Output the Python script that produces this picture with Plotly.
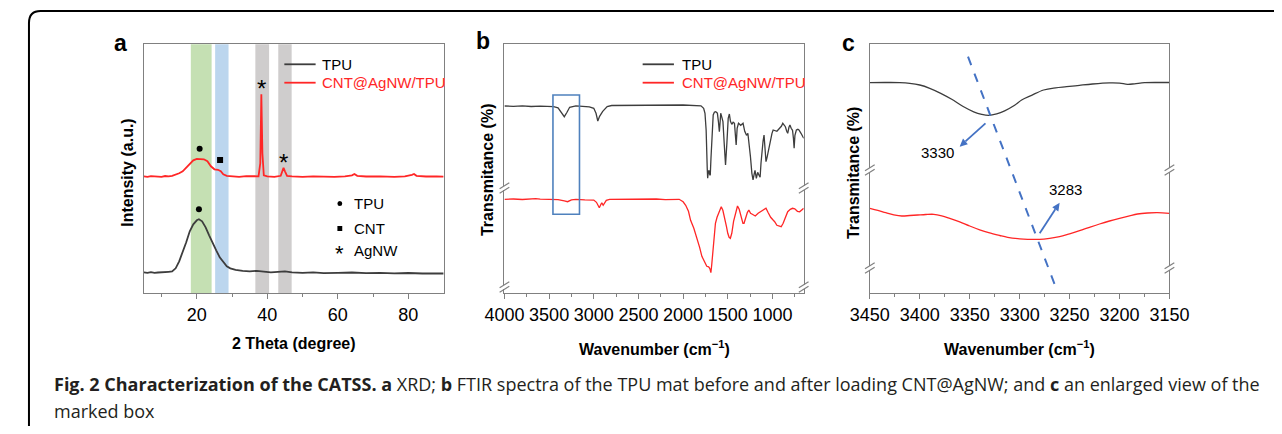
import numpy as np
import plotly.graph_objects as go

# the page body has an 8px margin on every side: size the figure to fit inside it
OFF = 8
W, H = 1282 - 2 * OFF, 434 - 2 * OFF

# ---------------- Panel a : XRD ----------------
xrd_2theta_tpu = [5, 6, 7, 8, 9, 10, 11, 12, 13, 14, 15, 16, 17, 18, 19, 20, 20.6, 21.5, 22.5, 23.5,
                  24.5, 25.5, 26.5, 27.5, 28.5, 29.5, 31, 33, 35, 37, 39, 41, 43, 45, 47, 50, 53,
                  56, 60, 64, 68, 72, 76, 80, 84, 88, 90]
xrd_tpu = [21, 20.5, 21.2, 20.4, 20.8, 21, 20.6, 21.5, 21.8, 25, 32, 41, 51, 62, 69, 73, 74, 72, 66, 58,
           50, 43, 36, 31, 27, 25, 23.5, 22.5, 22, 22.5, 21.5, 21, 21.5, 22, 21, 20.5, 21,
           20.2, 20.5, 20.8, 20.2, 20.5, 20, 20.3, 19.8, 20, 19.8]

xrd_2theta_cnt = [5, 6, 7, 8, 9, 10, 11, 12, 13, 14, 15, 16, 17, 18, 19, 20, 21, 22, 23, 24, 25, 26,
                  26.8, 27.5, 28.5, 30, 32, 34, 36, 37.5, 38.0, 38.3, 38.6, 39.0, 40, 42, 43.8, 44.3,
                  44.6, 45.0, 45.6, 47, 50, 53, 56, 59, 62, 64, 64.7, 65.5, 68, 72, 76, 79, 81,
                  81.6, 82.3, 85, 88, 90]
xrd_cnt = [117, 116.5, 117.2, 116.8, 117, 116.5, 117.3, 117, 117.5, 118.5, 120, 122, 126, 130, 133,
           134.5, 134.5, 134, 132, 127, 124, 123.5, 122, 119, 117.5, 117, 116.5, 117.2, 116.8, 117,
           130, 199, 140, 118, 117, 116.5, 117.5, 122, 125.5, 122, 117.5, 117, 116.5, 117, 116.8,
           116.4, 117, 118, 119.3, 117.5, 116.8, 117, 116.4, 117, 118.5, 119.3, 117.5, 116.8, 117,
           116.6]

band_ranges = [(18.3, 24.2), (25.2, 29.0), (36.6, 40.5), (43.1, 46.9)]
band_colors = ['#c5e0b3', '#bcd6ee', '#cfcdcd', '#cfcdcd']
tpu_peak_2theta = 20.6
tpu_peak_2theta_cnt = 20.8
cnt_peak_2theta = 26.6
agnw_peaks_2theta = [38.3, 44.6]
xrd_ticks = [20, 40, 60, 80]

# ---------------- Panel b : FTIR ----------------
ftir_wn_tpu = [4000, 3900, 3800, 3700, 3600, 3500, 3450, 3400, 3360, 3330, 3300, 3270, 3200, 3100,
               3050, 3000, 2975, 2955, 2935, 2900, 2870, 2850, 2800, 2600, 2400, 2200, 2000, 1800,
               1770, 1755, 1742, 1730, 1725, 1718, 1710, 1703, 1696, 1688, 1681, 1670, 1663, 1650,
               1638, 1625, 1616, 1605, 1594, 1585, 1579, 1566, 1554, 1540, 1525, 1510, 1495, 1482,
               1470, 1455, 1440, 1425, 1415, 1406, 1395, 1380, 1355, 1329, 1310, 1290, 1275, 1260,
               1246, 1230, 1217, 1205, 1195, 1180, 1165, 1150, 1138, 1128, 1120, 1105, 1094, 1083,
               1072, 1060, 1045, 1022, 1005, 992, 970, 950, 920, 900, 884, 870, 855, 840, 829, 815,
               804, 790, 775, 765, 757, 748, 732, 715, 703, 680, 650]
ftir_tpu = [187.3, 187.0, 187.5, 186.8, 187.2, 186.8, 186.6, 185.5, 181, 176.6, 181, 186, 187.5, 187.2,
            186.5, 185, 180, 172.3, 177, 182, 185, 186.8, 187.8, 188, 188.2, 188.3, 188.3, 187.5,
            185, 180, 163, 125, 115, 121, 123, 119, 118, 135, 153, 172, 178.3, 181,
            181.6, 181, 180, 172, 161.6, 172, 180, 176, 171.6, 150, 128.3, 150, 175, 179.3,
            172, 169, 171, 170, 160, 148.3, 165, 170, 168, 170, 162, 158, 160, 150,
            136.6, 120, 113.3, 119, 123, 115, 121, 118, 116, 130, 140, 152, 158.3, 145,
            131.6, 136, 143, 153, 160, 163.3, 163, 162, 165, 167, 170, 168, 166.6, 162, 160, 166,
            168.3, 165, 163, 155, 145, 158, 163.3, 164, 163.3, 160, 155]

ftir_wn_cnt = [4000, 3900, 3800, 3700, 3650, 3600, 3500, 3400, 3330, 3293, 3250, 3200, 3100, 3000,
               2970, 2950, 2938, 2920, 2910, 2895, 2880, 2860, 2823, 2700, 2500, 2300, 2200, 2100,
               2044, 2000, 1971, 1940, 1916, 1880, 1844, 1815, 1790, 1760, 1735, 1720, 1710, 1698,
               1689, 1680, 1663, 1650, 1638, 1620, 1609, 1590, 1573, 1555, 1536, 1515, 1500, 1485,
               1471, 1455, 1435, 1410, 1391, 1372, 1355, 1330, 1318, 1300, 1280, 1264, 1245, 1225,
               1192, 1160, 1120, 1072, 1050, 1020, 990, 975, 950, 920, 902, 880, 855, 829, 800, 775,
               750, 720, 695, 670, 650]
ftir_cnt = [94.0, 94.3, 93.8, 94.5, 94.6, 94.2, 94.0, 93.6, 92.5, 91.6, 93.5, 94.0, 93.5, 93.2,
            91, 87, 85.6, 89, 90.5, 88, 90, 93, 94, 94.2, 93.8, 94.3, 93.6, 94.2,
            94.0, 91.5, 88, 82, 73, 65, 55, 46, 37, 31, 27, 26.6, 26, 24,
            20.6, 28, 43.3, 58, 70, 76, 78.3, 84, 86.6, 83, 76.6, 67, 60, 56,
            55, 60, 72, 82, 87.3, 84, 77, 70, 70, 76, 81, 83.3, 80, 79,
            77.3, 80, 82, 85, 81, 76, 73, 71.6, 68, 67, 66.6, 70, 76, 81.6, 84, 85,
            84.5, 82, 81.5, 83, 85]

ftir_ticks = [4000, 3500, 3000, 2500, 2000, 1500, 1000]
box_wn = (3457, 3160)
box_val = (79, 198.3)

# ---------------- Panel c : FTIR zoom ----------------
zoom_wn_tpu = [3450, 3435, 3420, 3410, 3400, 3390, 3379, 3368, 3357, 3346, 3338, 3331, 3323, 3315,
               3305, 3298, 3288, 3276, 3264, 3253, 3240, 3227, 3210, 3200, 3192, 3185, 3175, 3160, 3150]
zoom_tpu = [210.6, 210.8, 210.7, 210, 208.3, 205, 200, 194, 187, 181.5, 179, 178, 179.5, 182.5,
            188, 193.3, 198, 203.3, 205.5, 206.6, 208, 209.3, 210.4, 210.2, 209, 209.5, 210.6, 210.8, 210.8]
zoom_wn_cnt = [3450, 3442, 3434, 3426, 3418, 3410, 3402, 3394, 3386, 3378, 3370, 3360, 3350, 3340,
               3331, 3320, 3312, 3300, 3292, 3280, 3270, 3260, 3250, 3240, 3230, 3220, 3210, 3200,
               3190, 3182, 3172, 3162, 3150]
zoom_cnt = [85, 83, 80.6, 78.5, 77.3, 77.8, 78.3, 78.8, 79, 77.5, 75, 71.5, 67.3, 63.5,
            60.6, 57.8, 56, 54.5, 54, 54, 55, 56.6, 59.5, 62.6, 66, 69.3, 72.3, 75,
            77.5, 79.3, 80.3, 80.6, 80]
zoom_ticks = [3450, 3400, 3350, 3300, 3250, 3200, 3150]
peak_tpu_wn = 3330
peak_cnt_wn = 3283

# ---------------- styling ----------------
FONT = "Liberation Sans, Arial, sans-serif"
BLACK = '#3d3d3d'
RED = '#ff2626'
AX = '#808080'
BLUE = '#4472c4'
Y_RANGE = [0, 249]


def PX(x):
    return (x - OFF) / W


def PY(y):
    return 1 - (y - OFF) / H


Y_DOMAIN = [PY(293.3), PY(44.3)]

fig = go.Figure()

# panel a traces
fig.add_trace(go.Scatter(x=xrd_2theta_tpu, y=xrd_tpu, mode='lines', line=dict(color=BLACK, width=1.8),
                         xaxis='x', yaxis='y', showlegend=False))
fig.add_trace(go.Scatter(x=xrd_2theta_cnt, y=xrd_cnt, mode='lines', line=dict(color=RED, width=1.8),
                         xaxis='x', yaxis='y', showlegend=False))
# peak symbols (positions from the curves)
dot_x = [tpu_peak_2theta, tpu_peak_2theta_cnt]
dot_y = [np.interp(tpu_peak_2theta, xrd_2theta_tpu, xrd_tpu) + 10,
         np.interp(tpu_peak_2theta_cnt, xrd_2theta_cnt, xrd_cnt) + 10]
fig.add_trace(go.Scatter(x=dot_x, y=dot_y, mode='markers', marker=dict(symbol='circle', size=6, color='black'),
                         xaxis='x', yaxis='y', showlegend=False))
fig.add_trace(go.Scatter(x=[cnt_peak_2theta], y=[np.interp(cnt_peak_2theta, xrd_2theta_cnt, xrd_cnt) + 11],
                         mode='markers', marker=dict(symbol='square', size=6, color='black'),
                         xaxis='x', yaxis='y', showlegend=False))

# panel b traces
fig.add_trace(go.Scatter(x=ftir_wn_tpu, y=ftir_tpu, mode='lines', line=dict(color=BLACK, width=1.3),
                         xaxis='x2', yaxis='y2', showlegend=False))
fig.add_trace(go.Scatter(x=ftir_wn_cnt, y=ftir_cnt, mode='lines', line=dict(color=RED, width=1.3),
                         xaxis='x2', yaxis='y2', showlegend=False))

# panel c traces
fig.add_trace(go.Scatter(x=zoom_wn_tpu, y=zoom_tpu, mode='lines', line=dict(color=BLACK, width=1.3, shape='spline'),
                         xaxis='x3', yaxis='y3', showlegend=False))
fig.add_trace(go.Scatter(x=zoom_wn_cnt, y=zoom_cnt, mode='lines', line=dict(color=RED, width=1.3, shape='spline'),
                         xaxis='x3', yaxis='y3', showlegend=False))

xcommon = dict(showgrid=False, zeroline=False, showline=True, linecolor=AX, linewidth=1.2, mirror=True,
               ticks='outside', ticklen=5, tickwidth=1.2, tickcolor=AX,
               tickfont=dict(size=18, color='black', family=FONT), ticklabelstandoff=0)
ycommon = dict(showgrid=False, zeroline=False, showline=True, linecolor=AX, linewidth=1.2, mirror=True,
               ticks='', showticklabels=False, range=Y_RANGE, domain=Y_DOMAIN, fixedrange=True)

fig.update_layout(
    xaxis=dict(domain=[PX(127.7), PX(437.2)], range=[5, 90], anchor='y', tickvals=xrd_ticks,
               minor=dict(ticks='outside', ticklen=3, tickcolor=AX, tickvals=[10, 30, 50, 70]), **xcommon),
    yaxis=dict(anchor='x', **ycommon),
    xaxis2=dict(domain=[PX(500), PX(809)], range=[4000, 650], anchor='y2', tickvals=ftir_ticks,
                minor=dict(ticks='outside', ticklen=3, tickcolor=AX, dtick=250, tick0=0), **xcommon),
    yaxis2=dict(anchor='x2', **ycommon),
    xaxis3=dict(domain=[PX(877.3), PX(1186.7)], range=[3450, 3150], anchor='y3', tickvals=zoom_ticks,
                minor=dict(ticks='outside', ticklen=3, tickcolor=AX, dtick=25, tick0=0), **xcommon),
    yaxis3=dict(anchor='x3', **ycommon),
)

shapes = []
# XRD bands
for (b0, b1), col in zip(band_ranges, band_colors):
    shapes.append(dict(type='rect', xref='x', yref='y domain', x0=b0, x1=b1, y0=0, y1=1,
                       fillcolor=col, line=dict(width=0), layer='below'))
# FTIR marked box
shapes.append(dict(type='rect', xref='x2', yref='y2', x0=box_wn[0], x1=box_wn[1], y0=box_val[0], y1=box_val[1],
                   line=dict(color='#4f81bd', width=1.6), fillcolor='rgba(0,0,0,0)'))
# dashed guide in c
shapes.append(dict(type='line', xref='x3', yref='y3', x0=3351.7, y0=236.6, x1=3262.8, y1=3.3,
                   line=dict(color=BLUE, width=2, dash='dash')))


def arrow(tx, ty, hx, hy):
    """blue arrow from tail (tx,ty) to head (hx,hy), pixel positions"""
    out = []
    dx, dy = hx - tx, hy - ty
    L = (dx * dx + dy * dy) ** 0.5
    ux, uy = dx / L, dy / L
    hl, hw = 8, 3.8
    bx, by = hx - ux * hl, hy - uy * hl
    out.append(dict(type='line', xref='paper', yref='paper', x0=PX(tx), y0=PY(ty), x1=PX(bx), y1=PY(by),
                    line=dict(color=BLUE, width=1.8)))
    p1 = (bx - uy * hw, by + ux * hw)
    p2 = (bx + uy * hw, by - ux * hw)
    path = f"M {PX(hx)},{PY(hy)} L {PX(p1[0])},{PY(p1[1])} L {PX(p2[0])},{PY(p2[1])} Z"
    out.append(dict(type='path', xref='paper', yref='paper', path=path, fillcolor=BLUE, line=dict(width=0)))
    return out


shapes += arrow(996.7, 123.3, 970, 146.7)
shapes += arrow(1052.7, 233.3, 1073.3, 202.7)


def break_mark(px, py):
    out = [dict(type='rect', xref='paper', yref='paper', x0=PX(px - 2.5), x1=PX(px + 2.5),
                y0=PY(py + 2), y1=PY(py - 2), fillcolor='white', line=dict(width=0))]
    for dy in (-2.2, 2.2):
        out.append(dict(type='line', xref='paper', yref='paper', x0=PX(px - 5), y0=PY(py + dy + 3),
                        x1=PX(px + 5), y1=PY(py + dy - 3), line=dict(color=AX, width=1.2)))
    return out


for px in (500, 809):
    for py in (188, 287):
        shapes += break_mark(px, py)
for px in (877.3, 1186.7):
    for py in (170, 268):
        shapes += break_mark(px, py)

# legend lines
for x0, x1 in ((272.7, 305), (642.7, 675)):
    shapes.append(dict(type='line', xref='paper', yref='paper', x0=PX(x0), x1=PX(x1), y0=PY(64.3), y1=PY(64.3),
                       line=dict(color=BLACK, width=1.8)))
    shapes.append(dict(type='line', xref='paper', yref='paper', x0=PX(x0), x1=PX(x1), y0=PY(82.7), y1=PY(82.7),
                       line=dict(color=RED, width=1.8)))
# marker legend symbols in a
shapes.append(dict(type='circle', xref='paper', yref='paper', x0=PX(327.5), x1=PX(332.5), y0=PY(206), y1=PY(201),
                   fillcolor='black', line=dict(width=0)))
shapes.append(dict(type='rect', xref='paper', yref='paper', x0=PX(327.5), x1=PX(332.5), y0=PY(231), y1=PY(226),
                   fillcolor='black', line=dict(width=0)))

# outer frame
frame = (f"M {PX(1300)},{PY(11)} L {PX(21)},{PY(11)} Q {PX(9)},{PY(11)} {PX(9)},{PY(23)} L {PX(9)},{PY(450)}")
shapes.append(dict(type='path', xref='paper', yref='paper', path=frame, line=dict(color='black', width=2)))

ann = []


def text(px, py, s, size=15, color='black', bold=False, xanchor='left', yanchor='middle', angle=0, family=FONT):
    ann.append(dict(xref='paper', yref='paper', x=PX(px), y=PY(py), text=(f'<b>{s}</b>' if bold else s),
                    showarrow=False, xanchor=xanchor, yanchor=yanchor, textangle=angle,
                    font=dict(size=size, color=color, family=family)))


# AgNW peak stars (placed just above the peaks of the curve)
for p in agnw_peaks_2theta:
    ann.append(dict(xref='x', yref='y', x=p, y=float(np.interp(p, xrd_2theta_cnt, xrd_cnt)) - 10,
                    text='*', showarrow=False, yanchor='bottom', font=dict(size=24, color='black', family=FONT)))

# panel letters
text(104, 43, 'a', size=23, bold=True, xanchor='center')
text(478, 41, 'b', size=23, bold=True, xanchor='center')
text(855, 43, 'c', size=23, bold=True, xanchor='center')
# legends
text(310, 64.3, 'TPU', size=15)
text(310, 82.7, 'CNT@AgNW/TPU', size=15, color=RED)
text(681.7, 64.3, 'TPU', size=15)
text(681.7, 82.7, 'CNT@AgNW/TPU', size=15, color=RED)
text(343, 203.3, 'TPU', size=15)
text(343, 228.3, 'CNT', size=15)
text(343, 250, 'AgNW', size=15)
text(330, 254, '*', size=22, xanchor='center')
# axis titles
text(283, 343, '2 Theta (degree)', size=16, bold=True, xanchor='center')
text(655, 348, 'Wavenumber (cm<sup>−1</sup>)', size=16, bold=True, xanchor='center')
text(1032, 348, 'Wavenumber (cm<sup>−1</sup>)', size=16, bold=True, xanchor='center')
text(110, 173, 'Intensity (a.u.)', size=16, bold=True, xanchor='center', angle=-90)
text(482, 170, 'Transmitance (%)', size=16, bold=True, xanchor='center', angle=-90)
text(860, 173, 'Transmitance (%)', size=16, bold=True, xanchor='center', angle=-90)
# caption
CAP = "Open Sans, sans-serif"
text(33, 384, '<b>Fig. 2 Characterization of the CATSS. a</b> XRD; <b>b</b> FTIR spectra of the TPU mat before '
     'and after loading CNT@AgNW; and <b>c</b> an enlarged view of the', size=18, color='#231f20', family=CAP)
text(33, 411, 'marked box', size=18, color='#231f20', family=CAP)

# panel c labels
ann.append(dict(xref='x3', yref='y3', x=3382.4, y=140.6, text=str(peak_tpu_wn), showarrow=False,
                font=dict(size=15, color='black', family=FONT)))
ann.append(dict(xref='x3', yref='y3', x=3253.8, y=103.3, text=str(peak_cnt_wn), showarrow=False,
                font=dict(size=15, color='black', family=FONT)))

fig.update_layout(width=W, height=H, margin=dict(l=0, r=0, t=0, b=0), autosize=False,
                  paper_bgcolor='white', plot_bgcolor='white', shapes=shapes, annotations=ann,
                  font=dict(family=FONT, color='black'), showlegend=False)

fig.write_html("out.html")
